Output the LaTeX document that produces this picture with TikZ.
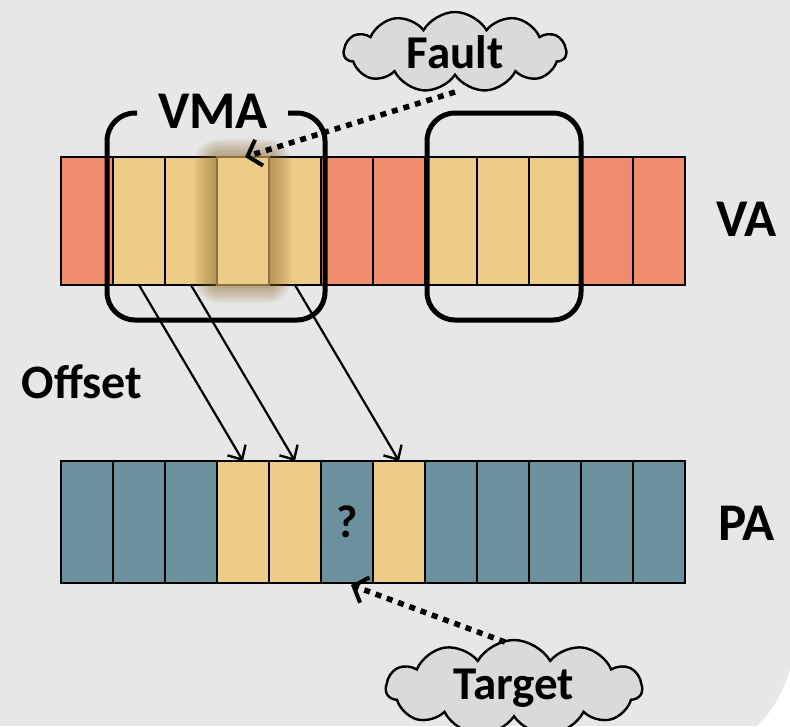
\documentclass[tikz,border=0pt]{standalone}
\usepackage{fontspec}
\setmainfont{Carlito}
\usetikzlibrary{shapes.symbols,arrows.meta,calc}
\definecolor{bgc}{HTML}{E7E7E7}
\definecolor{vaor}{HTML}{EF8D6C}
\definecolor{yel}{HTML}{EDCC88}
\definecolor{teal}{HTML}{6B929C}
\definecolor{cloudc}{HTML}{DADADA}
\definecolor{glowc}{HTML}{8A6A30}
\definecolor{glowline}{HTML}{8B7040}
\tikzset{
  cell/.style={draw=black, line width=1.6pt, minimum width=52pt, inner sep=0pt, outer sep=0pt},
  vcell/.style={cell, minimum height=128pt},
  pcell/.style={cell, minimum height=122pt},
  vmabox/.style={draw=black, line width=5pt, rounded corners=28pt},
  maparrow/.style={draw=black, line width=2.2pt, -{Straight Barb[length=11pt,width=21pt,line width=2.4pt]}},
  hintarrow/.style={draw=black, line width=5.5pt, dash pattern=on 6pt off 6pt, -{Straight Barb[length=12pt,width=27pt,line width=4pt]}},
  bubble/.style={cloud, cloud puffs=11, cloud puff arc=120, cloud ignores aspect, draw=black, line width=2.4pt, fill=cloudc, inner sep=0pt, font=\fontsize{47}{52}\selectfont\bfseries},
  biglabel/.style={font=\fontsize{53}{58}\selectfont\bfseries, inner sep=0pt}
}
\begin{document}
\begin{tikzpicture}[x=1pt,y=-1pt]
\useasboundingbox (0,0) rectangle (790,726);
\fill[bgc] (0,0) rectangle (790,726);
\fill[white] (790,670) .. controls (782,695) and (772,712) .. (757,726) -- (790,726) -- cycle;
% VA row
\foreach \i/\c in {1/vaor,2/yel,3/yel,5/yel,6/vaor,7/vaor,8/yel,9/yel,10/yel,11/vaor,12/vaor}
  \node[vcell, fill=\c] (v\i) at ({87+52*(\i-1)},221) {};
% glow around faulting page
\foreach \d in {2,4,...,26}
  \fill[glowc, opacity=0.05, rounded corners=\d pt] ({217-\d*0.9},{157-\d*0.7}) rectangle ({269+\d*0.9},{285+\d*0.7});
\node[vcell, fill=yel, draw=glowline] (v4) at (243,221) {};
% PA row
\foreach \i/\c in {1/teal,2/teal,3/teal,4/yel,5/yel,7/yel,8/teal,9/teal,10/teal,11/teal,12/teal}
  \node[pcell, fill=\c] (p\i) at ({87+52*(\i-1)},522) {};
\node[pcell, fill=teal, font=\fontsize{46}{50}\selectfont\bfseries] (p6) at (347,522) {?};
% VMA boxes
\draw[vmabox] (137,113) -- (107,113) -- (107,320) -- (325,320) -- (325,113) -- (288,113);
\draw[vmabox] (427,113) rectangle (581,320);
% labels
\node[biglabel] (vma) at (213,111) {VMA};
\node[biglabel, anchor=west] (va) at (716,219) {VA};
\node[biglabel, anchor=west] (pa) at (718,523) {PA};
\node[biglabel, font=\fontsize{48}{52}\selectfont\bfseries] (offset) at (82,382) {Offset};
% mapping arrows
\draw[maparrow] (v2.south) -- (p4.north);
\draw[maparrow] (v3.south) -- (p5.north);
\draw[maparrow] (v5.south) -- (p7.north);
% clouds
\node[bubble, minimum width=222pt, minimum height=80pt] (fault) at (455,52) {Fault};
\node[bubble, minimum width=256pt, minimum height=96pt] (target) at (514,688) {Target};
\coordinate (faultend) at (455,92);
\coordinate (targetend) at (505,642);
\draw[hintarrow] (faultend) -- ($(v4.north)+(2,0)$);
\draw[hintarrow] (targetend) -- ($(p6.south)+(4,2)$);
\end{tikzpicture}
\end{document}
